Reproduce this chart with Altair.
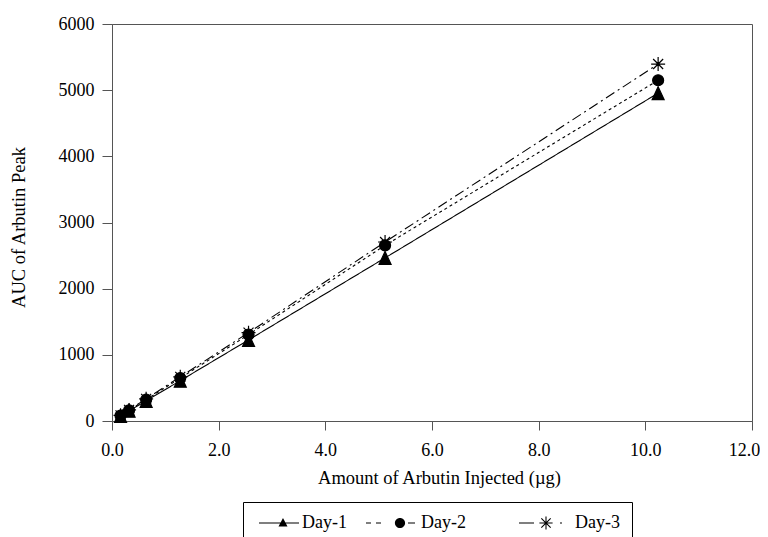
import altair as alt
import pandas as pd
import math
import re

# ---- data ----
amount = [0.16, 0.32, 0.64, 1.28, 2.56, 5.12, 10.24]
day1 = [78, 155, 305, 610, 1225, 2465, 4955]
day2 = [82, 162, 322, 648, 1305, 2655, 5150]
day3 = [85, 168, 335, 668, 1335, 2705, 5395]
days = ["Day-1", "Day-2", "Day-3"]
x_ticks = [0, 2, 4, 6, 8, 10, 12]
y_ticks = [0, 1000, 2000, 3000, 4000, 5000, 6000]

rows = []
for d, vals in zip(days, [day1, day2, day3]):
    for a, v in zip(amount, vals):
        rows.append({"day": d, "amount": a, "auc": v})
df = pd.DataFrame(rows)

# ---- styles ----
FONT = "Liberation Serif"
AX = "#555555"
dashes = [[1, 0], [3, 3], [10, 4, 2, 4]]

marker_paths = [
    "M0,-1.3L1.2,1.3L-1.2,1.3Z",
    "M1.1,0A1.1,1.1,0,1,1,-1.1,0A1.1,1.1,0,1,1,1.1,0Z",
    "M0,0L1.4,0M0,0L-1.4,0M0,0L0,1.4M0,0L0,-1.4M0,0L1,1M0,0L-1,-1M0,0L1,-1M0,0L-1,1",
]

# legend glyphs: line segment + marker, drawn with fills only (1 unit = 6 px)
def seg(x0, x1, h=0.09):
    return f"M{x0:.3f},{-h}L{x1:.3f},{-h}L{x1:.3f},{h}L{x0:.3f},{h}Z"

def arm(angle_deg, r, h=0.09):
    a = math.radians(angle_deg)
    c, s = math.cos(a), math.sin(a)
    pts = [(-r * c + h * s, -r * s - h * c), (r * c + h * s, r * s - h * c),
           (r * c - h * s, r * s + h * c), (-r * c - h * s, -r * s + h * c)]
    return "M" + "L".join(f"{px:.3f},{py:.3f}" for px, py in pts) + "Z"

def shift_path(p, dx):
    out = []
    for tok in re.findall(r"[MLZ]|-?\d+\.?\d*,-?\d+\.?\d*", p):
        if tok in ("M", "L", "Z"):
            out.append(tok)
        else:
            xs, ys = tok.split(",")
            out.append(f"{float(xs) + dx:.3f},{ys}")
    return "".join(out)

u = 1 / 6.0
leg1 = seg(-22 * u, 18 * u) + "M0.333,-0.85L1.083,0.6L-0.417,0.6Z"
# Day-2 glyph carries an empty (zero-area) point further right to widen its legend entry
leg2 = (seg(-34 * u, -29 * u) + seg(-24 * u, -19 * u) + seg(8 * u, 15 * u)
        + "M0.85,0A0.85,0.85,0,1,1,-0.85,0A0.85,0.85,0,1,1,0.85,0Z"
        + f"M{100 * u:.3f},0L{100 * u:.3f},0Z")
ast = "".join(arm(a, 1.1) for a in (0, 45, 90, 135))
leg3 = seg(-35 * u, -20 * u) + seg(6 * u, 8 * u) + shift_path(ast, -8 * u)
legend_paths = [leg1, leg2, leg3]

x = alt.X(
    "amount:Q",
    scale=alt.Scale(domain=[0, 12], nice=False, zero=True),
    axis=alt.Axis(values=x_ticks, format=".1f", title="Amount of Arbutin Injected (µg)",
                  tickSize=9, labelPadding=11, titlePadding=9, labelFlush=False,
                  labelOffset=alt.ExprRef("datum.value == 12 ? -8 : 0"),
                  titleX=327),
)
y = alt.Y(
    "auc:Q",
    scale=alt.Scale(domain=[0, 6000], nice=False),
    axis=alt.Axis(values=y_ticks, format="d", title="AUC of Arbutin Peak",
                  tickSize=10, labelPadding=8, titlePadding=30, labelFlush=False,
                  titleY=203),
)

base = alt.Chart(df)

lines = base.mark_line(color="black", strokeWidth=1.1).encode(
    x=x, y=y,
    strokeDash=alt.StrokeDash("day:N", scale=alt.Scale(domain=days, range=dashes), legend=None),
)

points = base.mark_point(filled=True, fill="black", stroke="black", strokeWidth=1.2,
                         size=100, opacity=1).encode(
    x=x, y=y,
    shape=alt.Shape("day:N", scale=alt.Scale(domain=days, range=marker_paths), legend=None),
)

leg = alt.Legend(
    orient="none", legendX=131, legendY=478, direction="horizontal", title=None,
    labelFont=FONT, labelFontSize=18, labelColor="black",
    symbolSize=144, symbolFillColor="black", symbolStrokeWidth=0,
    symbolOffset=17, labelOffset=12,
    padding=12, strokeColor="black", fillColor="white", columnPadding=18,
)

legend_layer = base.transform_filter("false").mark_point(
    filled=True, fill="black", size=144, opacity=1
).encode(
    x=x, y=y,
    shape=alt.Shape("day:N", scale=alt.Scale(domain=days, range=legend_paths), legend=leg),
)

chart = (
    alt.layer(lines, points, legend_layer)
    .resolve_scale(shape="independent")
    .properties(
        width=640, height=397,
        autosize=alt.AutoSizeParams(type="none"),
        padding={"left": 104, "top": 16, "right": 8, "bottom": 116},
        background="white",
    )
    .configure_view(stroke=AX, strokeWidth=1)
    .configure_axis(
        grid=False, domainColor=AX, tickColor=AX, domainWidth=1, tickWidth=1,
        labelFont=FONT, labelFontSize=18, labelColor="black",
        titleFont=FONT, titleFontSize=18.5, titleColor="black", titleFontWeight="normal",
    )
)

chart.save("out.html", embed_options={"renderer": "svg", "actions": False})
